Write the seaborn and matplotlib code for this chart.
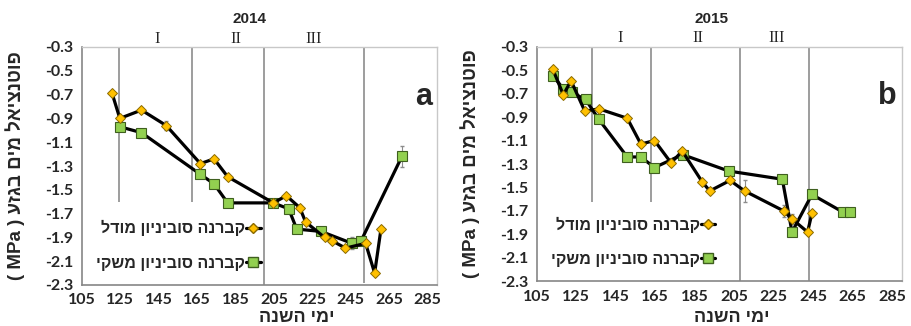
import matplotlib
matplotlib.use("Agg")
import matplotlib.pyplot as plt
import seaborn as sns
import numpy as np
from matplotlib.lines import Line2D

sns.set_style("white")
plt.rcParams['font.family'] = ['Lato', 'DejaVu Sans']

# ---------------- data ----------------
years = ["2014", "2015"]
panel_letters = ["a", "b"]
series_names = ["קברנה סוביניון מודל", "קברנה סוביניון משקי"]
x_label = "ימי השנה"
y_label_heb = "פוטנציאל מים בגזע"
y_label_unit = "( MPa )"
stage_labels = ["I", "II", "III"]

model_a_x = [120.7, 124.7, 136.0, 148.9, 166.7, 173.8, 180.9, 204.7, 211.5, 218.5,
             221.5, 231.4, 235.5, 242.3, 252.8, 257.5, 260.8]
model_a_y = [-0.69, -0.90, -0.83, -0.96, -1.28, -1.24, -1.39, -1.61, -1.55, -1.65,
             -1.77, -1.90, -1.93, -1.99, -1.95, -2.20, -1.83]
irr_a_x = [124.7, 136.0, 166.7, 173.8, 180.9, 204.7, 212.7, 216.9, 229.6, 245.7, 250.4, 271.7]
irr_a_y = [-0.97, -1.02, -1.37, -1.45, -1.61, -1.61, -1.66, -1.83, -1.85, -1.95, -1.93, -1.22]

model_b_x = [113.1, 118.5, 122.4, 129.4, 136.5, 150.9, 157.8, 164.7, 173.1, 178.8,
             188.8, 192.7, 203.0, 210.4, 230.2, 234.5, 242.3, 244.5]
model_b_y = [-0.49, -0.71, -0.59, -0.85, -0.83, -0.91, -1.13, -1.10, -1.29, -1.19,
             -1.45, -1.53, -1.44, -1.53, -1.70, -1.77, -1.88, -1.72]
irr_b_x = [113.4, 118.5, 122.7, 129.8, 136.5, 150.9, 157.8, 164.7, 178.9, 202.3,
           229.5, 234.4, 244.5, 260.2, 263.6]
irr_b_y = [-0.55, -0.66, -0.69, -0.75, -0.92, -1.24, -1.24, -1.33, -1.22, -1.36,
           -1.43, -1.88, -1.56, -1.71, -1.71]

# small error bars (x, y, half-width)
err_a_x = [148.9, 245.7, 271.7]
err_a_y = [-0.96, -1.95, -1.22]
err_a_e = [0.04, 0.05, 0.09]
err_b_x = [210.4, 230.2, 234.5]
err_b_y = [-1.53, -1.70, -1.77]
err_b_e = [0.09, 0.05, 0.04]

# stage dividers (x, lower end)
div_a_x = [124.3, 162.2, 199.6, 252.1]
div_a_low = [-1.60, -1.60, -2.30, -2.28]
div_b_x = [133.0, 162.7, 207.9, 242.8]
div_b_low = [-1.62, -1.62, -2.30, -2.30]
stage_a_x = [143.9, 185.4, 225.9]
stage_b_x = [147.2, 186.5, 226.5]

x_ticks = list(range(105, 286, 20))
y_ticks = [-0.3, -0.5, -0.7, -0.9, -1.1, -1.3, -1.5, -1.7, -1.9, -2.1, -2.3]


def visual(s):
    """Right-to-left Hebrew laid out for a left-to-right renderer."""
    return s[::-1]


# ---------------- figure ----------------
W, H = 912, 326
fig = plt.figure(figsize=(W / 100, H / 100), dpi=100)

def fx(px):
    return px / W

def fy(py):
    return 1 - py / H

ax_specs = [
    (82, 437, 47, 285),
    (536.7, 901.7, 46.7, 281.3),
]

Y_COL = "#FFC000"
Y_EDGE = "#8a6a00"
G_COL = "#92D050"
G_EDGE = "#3f5f1f"
heb = ['Liberation Sans', 'DejaVu Sans']
LW = 2.3
SQ = 7
DM = 5.5

panels = [
    (model_a_x, model_a_y, irr_a_x, irr_a_y, err_a_x, err_a_y, err_a_e,
     div_a_x, div_a_low, stage_a_x),
    (model_b_x, model_b_y, irr_b_x, irr_b_y, err_b_x, err_b_y, err_b_e,
     div_b_x, div_b_low, stage_b_x),
]

for i, (l, r, t, b) in enumerate(ax_specs):
    ax = fig.add_axes([fx(l), fy(b), fx(r - l), (b - t) / H])
    mx, my, ix, iy, ex, ey, ee, dx, dl, sx = panels[i]

    ax.vlines(dx, dl, [-0.3] * len(dx), colors="#8c8c8c", lw=1.2, zorder=1)
    ax.errorbar(ex, ey, yerr=ee, fmt="none", ecolor="#8c8c8c", elinewidth=0.8,
                capsize=1.5, zorder=2)

    sns.lineplot(x=ix, y=iy, sort=False, estimator=None, ax=ax, color="black",
                 lw=LW, marker="s", markersize=SQ, markerfacecolor=G_COL,
                 markeredgecolor=G_EDGE, markeredgewidth=0.8, zorder=3)
    sns.lineplot(x=mx, y=my, sort=False, estimator=None, ax=ax, color="black",
                 lw=LW, marker="D", markersize=DM, markerfacecolor=Y_COL,
                 markeredgecolor=Y_EDGE, markeredgewidth=0.7, zorder=4)

    ax.set_xlim(105, 290)
    ax.set_ylim(-2.3, -0.3)
    ax.set_xticks(x_ticks)
    ax.set_yticks(y_ticks)
    ax.set_xticklabels([str(v) for v in x_ticks], fontsize=11.5, fontweight="bold")
    ax.set_yticklabels([f"{v:.1f}" for v in y_ticks], fontsize=11.5, fontweight="bold")
    ax.tick_params(axis="both", direction="out", length=4, width=1,
                   color="#868686", pad=2)
    ax.set_xlabel("")
    ax.set_ylabel("")
    for side in ["top", "right"]:
        ax.spines[side].set_color("#c8c8c8")
        ax.spines[side].set_linewidth(1)
    for side in ["left", "bottom"]:
        ax.spines[side].set_color("#868686")
        ax.spines[side].set_linewidth(1.2)

    for k, s in enumerate(stage_labels):
        ax.text(sx[k], -0.23, s, ha="center", va="center", fontsize=12,
                family=['Liberation Serif', 'DejaVu Serif'], clip_on=False)

    ax.text(0.985, 0.79, panel_letters[i], transform=ax.transAxes, ha="right",
            va="center", fontsize=22, fontweight="bold",
            family=['Liberation Sans', 'DejaVu Sans'])

    handles = [
        Line2D([0], [0], color="black", lw=LW, marker="D", markersize=DM,
               markerfacecolor=Y_COL, markeredgecolor=Y_EDGE),
        Line2D([0], [0], color="black", lw=LW, marker="s", markersize=SQ,
               markerfacecolor=G_COL, markeredgecolor=G_EDGE),
    ]
    ax.legend(handles, [visual(s) for s in series_names], loc="lower left",
              bbox_to_anchor=(0.0, 0.0), frameon=False,
              markerfirst=False, handlelength=0.9, handletextpad=0.05,
              labelspacing=1.2,
              prop={"family": heb, "weight": "bold", "size": 11.5})

    cx = (l + r) / 2
    fig.text(fx(cx + 37 if i == 0 else cx + 13), fy(318), visual(x_label),
             ha="center", va="center", fontsize=13, fontweight="bold", family=heb)
    fig.text(fx(cx - 10 if i == 0 else cx - 8), fy(19), years[i], ha="center",
             va="center", fontsize=11, fontweight="bold", family=heb)
    fig.text(fx(l - 67), fy((t + b) / 2),
             y_label_unit + " " + visual(y_label_heb), ha="center", va="center",
             rotation=90, fontsize=13.5, fontweight="bold", family=heb)

fig.savefig("out.png", dpi=100, facecolor="white")
